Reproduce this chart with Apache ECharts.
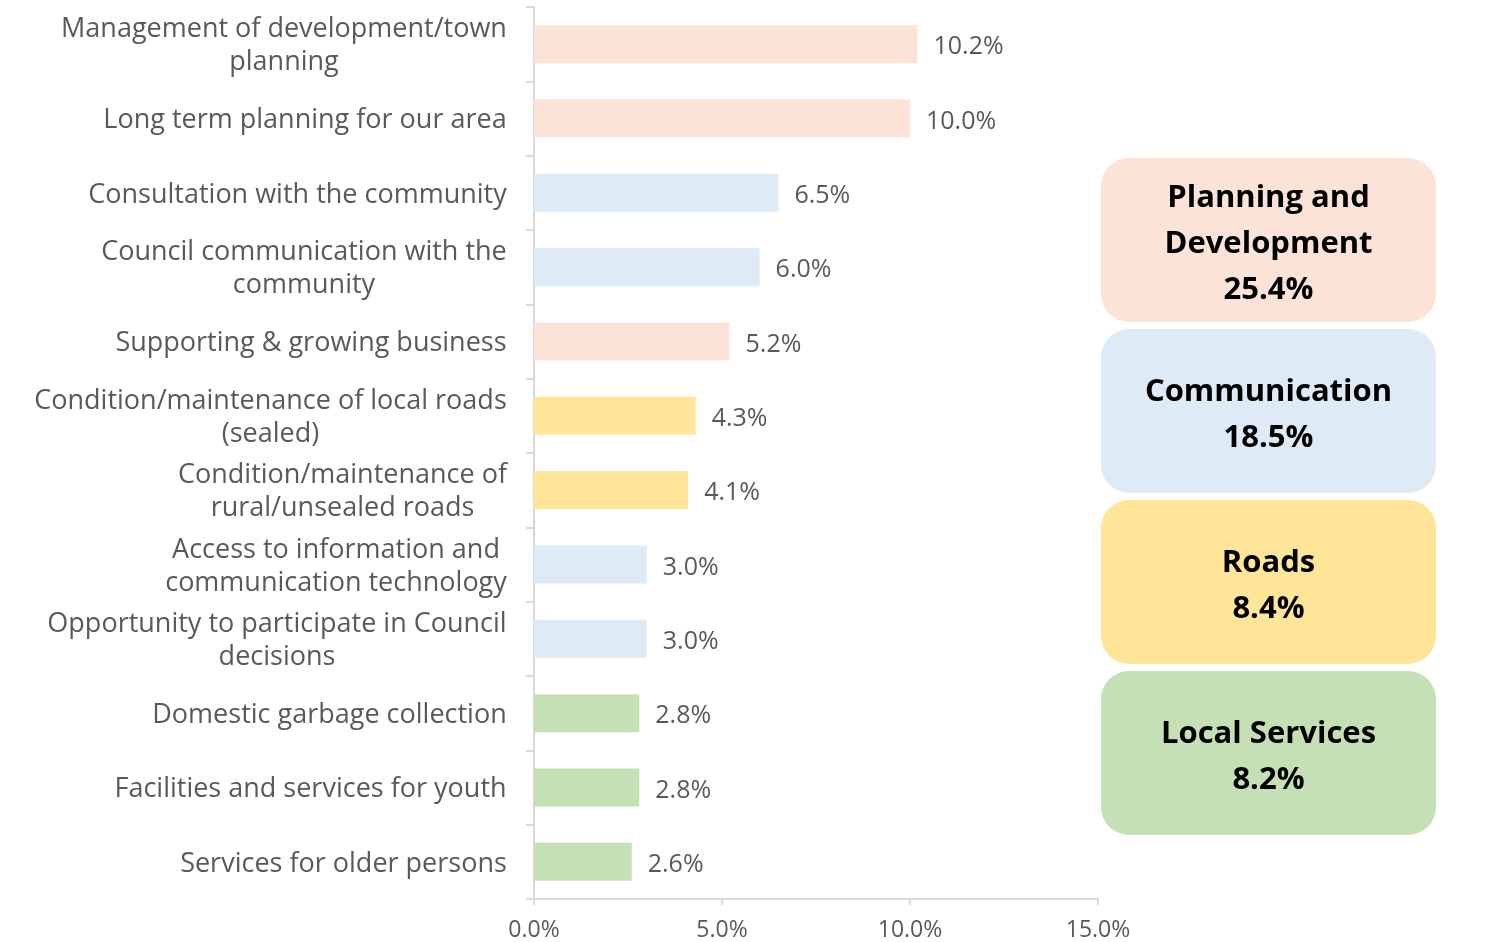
<!DOCTYPE html>
<html>
<head>
<meta charset="utf-8">
<script src="https://cdn.jsdelivr.net/npm/echarts@6/dist/echarts.min.js"></script>
<style>
html,body{margin:0;padding:0;background:#fff;}
#chart{width:1493px;height:942px;}
</style>
</head>
<body>
<div id="chart"></div>
<script>
const categories = [
  'Management of development/town\nplanning',
  'Long term planning for our area',
  'Consultation with the community',
  'Council communication with the\ncommunity',
  'Supporting & growing business',
  'Condition/maintenance of local roads\n(sealed)',
  'Condition/maintenance of\nrural/unsealed roads',
  'Access to information and\ncommunication technology',
  'Opportunity to participate in Council\ndecisions',
  'Domestic garbage collection',
  'Facilities and services for youth',
  'Services for older persons'
];
const values = [10.2, 10.0, 6.5, 6.0, 5.2, 4.3, 4.1, 3.0, 3.0, 2.8, 2.8, 2.6];
const categoryGroup = [0, 0, 1, 1, 0, 2, 2, 1, 1, 3, 3, 3];
const groupNames = ['Planning and\nDevelopment', 'Communication', 'Roads', 'Local Services'];
const groupTotals = [25.4, 18.5, 8.4, 8.2];
const groupColors = ['#FBE4D7', '#DEEAF6', '#FFE598', '#C5E0B4'];
const xTicks = [0, 5, 10, 15];

const FONT = '"Open Sans", "Noto Sans", sans-serif';
const LABEL_SIZE = 27;
const TEXT_COLOR = '#595959';

// measure lines for centered multi-line labels
const ctx = document.createElement('canvas').getContext('2d');
ctx.font = LABEL_SIZE + 'px "Open Sans"';
const rich = {};
categories.forEach((c, i) => {
  const lines = c.split('\n');
  const w = Math.max(...lines.map(l => ctx.measureText(l).width));
  rich['l' + i] = {width: Math.ceil(w) + 2, align: 'center', fontSize: LABEL_SIZE, fontFamily: FONT, color: TEXT_COLOR, lineHeight: 33};
});

const chart = echarts.init(document.getElementById('chart'));

const boxX = 1101, boxW = 335, boxH = 164, boxGap = 7, boxTop = 158;
const graphics = groupNames.map((g, i) => ({
  type: 'rect',
  left: boxX,
  top: boxTop + i * (boxH + boxGap),
  shape: {width: boxW, height: boxH, r: 28},
  style: {fill: groupColors[i]},
  textContent: {
    style: {
      text: g + '\n' + groupTotals[i].toFixed(1) + '%',
      font: 'bold 31px ' + FONT,
      fill: '#000',
      align: 'center',
      lineHeight: 46
    }
  },
  textConfig: {position: 'inside', offset: [0, 4]}
}));

chart.setOption({
  animation: false,
  grid: {left: 534, right: 395, top: 7, bottom: 43, containLabel: false},
  xAxis: {
    type: 'value',
    min: 0, max: 15, interval: 5,
    splitLine: {show: false},
    axisLine: {show: true, lineStyle: {color: '#d9d9d9', width: 2}},
    axisTick: {show: true, length: 6, lineStyle: {color: '#d9d9d9', width: 2}},
    axisLabel: {
      color: TEXT_COLOR, fontSize: 23, fontFamily: FONT, margin: 20,
      customValues: xTicks,
      formatter: v => v.toFixed(1) + '%'
    }
  },
  yAxis: {
    type: 'category',
    inverse: true,
    data: categories,
    axisLine: {show: true, lineStyle: {color: '#d9d9d9', width: 2}},
    axisTick: {show: true, length: 8, lineStyle: {color: '#d9d9d9', width: 2}},
    axisLabel: {
      margin: 26,
      color: TEXT_COLOR, fontSize: LABEL_SIZE, fontFamily: FONT, lineHeight: 33,
      align: 'right',
      padding: [4, 0, 0, 0],
      formatter: (v, i) => v.split('\n').map(l => '{l' + i + '|' + l + '}').join('\n'),
      rich: rich
    }
  },
  series: [{
    type: 'bar',
    barWidth: 38,
    data: values.map((v, i) => ({value: v, itemStyle: {color: groupColors[categoryGroup[i]]}})),
    label: {
      show: true, position: 'right', distance: 16,
      color: TEXT_COLOR, fontSize: 25, fontFamily: FONT,
      offset: [0, 3],
      formatter: p => p.value.toFixed(1) + '%'
    }
  }],
  graphic: graphics
});
</script>
</body>
</html>
